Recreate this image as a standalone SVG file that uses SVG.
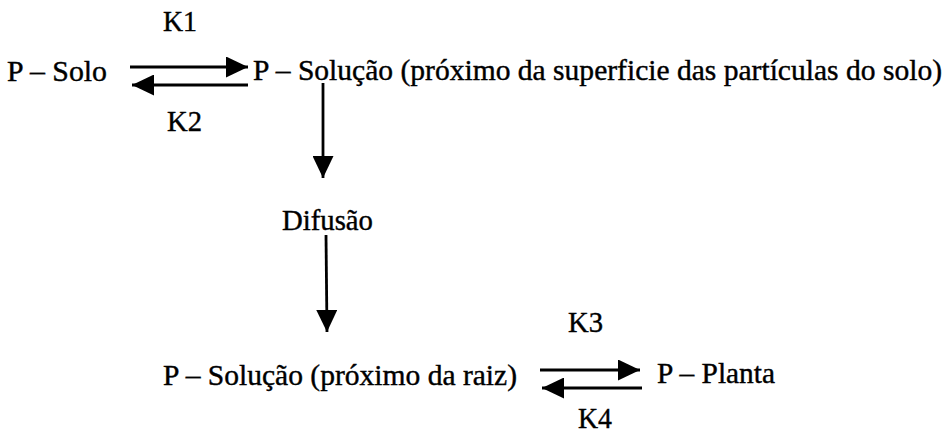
<svg xmlns="http://www.w3.org/2000/svg" width="947" height="434" viewBox="0 0 947 434">
<style>
  text { font-family: "Liberation Serif", "Times New Roman", serif; font-size: 29px; fill: #000; stroke: #000; stroke-width: 0.4; }
  .conn { stroke: #000; stroke-width: 2.8; fill: none; }
</style>
<defs>
  <marker id="ah" viewBox="0 0 22 21" refX="22" refY="10.5" markerWidth="22" markerHeight="21" markerUnits="userSpaceOnUse" orient="auto">
    <path d="M0,0 L22,10.5 L0,21 Z" fill="#000"/>
  </marker>
</defs>
<rect width="947" height="434" fill="#fff"/>
<g id="node-p-solo">
  <text x="7" y="81" textLength="100" lengthAdjust="spacingAndGlyphs">P – Solo</text>
</g>
<g id="node-p-solucao-particulas">
  <text x="253" y="80" textLength="689" lengthAdjust="spacingAndGlyphs">P – Solução (próximo da superficie das partículas do solo)</text>
</g>
<g id="node-difusao">
  <text x="282" y="230" textLength="91" lengthAdjust="spacingAndGlyphs">Difusão</text>
</g>
<g id="node-p-solucao-raiz">
  <text x="163" y="385" textLength="354" lengthAdjust="spacingAndGlyphs">P – Solução (próximo da raiz)</text>
</g>
<g id="node-p-planta">
  <text x="657" y="383" textLength="118" lengthAdjust="spacingAndGlyphs">P – Planta</text>
</g>
<g id="connectors">
  <line class="conn" x1="130" y1="67" x2="248" y2="67" marker-end="url(#ah)"/>
  <line class="conn" x1="248" y1="85" x2="132" y2="85" marker-end="url(#ah)"/>
  <text x="163" y="31" textLength="34" lengthAdjust="spacingAndGlyphs">K1</text>
  <text x="167" y="131" textLength="35" lengthAdjust="spacingAndGlyphs">K2</text>
  <line class="conn" x1="323" y1="83" x2="323" y2="178" marker-end="url(#ah)"/>
  <line class="conn" x1="326" y1="235" x2="327" y2="332" marker-end="url(#ah)"/>
  <line class="conn" x1="540" y1="370" x2="640" y2="370" marker-end="url(#ah)"/>
  <line class="conn" x1="642" y1="388" x2="542" y2="388" marker-end="url(#ah)"/>
  <text x="568" y="332" textLength="35" lengthAdjust="spacingAndGlyphs">K3</text>
  <text x="578" y="428" textLength="34" lengthAdjust="spacingAndGlyphs">K4</text>
</g>
</svg>
